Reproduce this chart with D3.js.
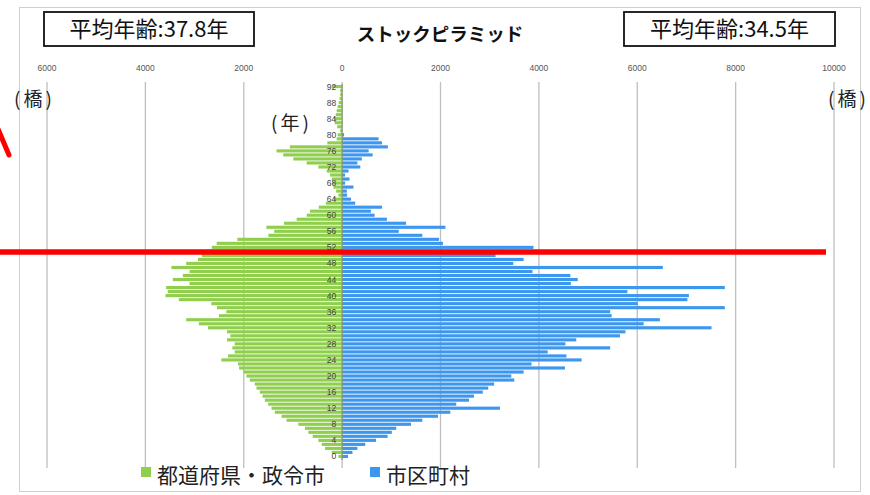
<!DOCTYPE html>
<html>
<head>
<meta charset="utf-8">
<script src="https://cdn.jsdelivr.net/npm/d3@7"></script>
<style>
  body { margin: 0; background: #fff; }
  svg { font-family: "Noto Sans CJK JP", "Noto Sans", sans-serif; }
</style>
</head>
<body>
<svg id="chart" width="870" height="495"></svg>
<script>
// 年齢 0..92
const ages = d3.range(0, 93);

// 都道府県・政令市 (橋数)
const prefValues = [
    75, 211, 347, 415, 483, 599, 687, 755, 891, 1129,
    1231, 1367, 1435, 1503, 1571, 1618, 1673, 1741, 1775, 1877,
    1945, 2000, 2095, 2116, 2456, 2320, 2184, 2232, 2184, 2340,
    2272, 2340, 2728, 2912, 3170, 2504, 2354, 2544, 2660, 3320,
    3592, 3544, 3578, 3102, 3442, 3238, 3102, 3470, 3170, 2930,
    2850, 2750, 2650, 2550, 2130, 1500, 1380, 1540, 1180, 925,
    720, 653, 475, 330, 177, 75, 122, 177, 200, 211,
    245, 313, 483, 721, 993, 1197, 1333, 1061, 300, 110,
    90, 40, 100, 150, 160, 130, 110, 90, 70, 50,
    40, 40, 210
];

// 市区町村 (橋数)
const cityValues = [
    120, 210, 310, 470, 690, 925, 1010, 1100, 1400, 1630,
    1950, 2200, 3210, 2320, 2580, 2680, 2860, 2970, 3090, 3500,
    3440, 3690, 4530, 3850, 4870, 4560, 4180, 5450, 4540, 4760,
    5650, 5760, 7510, 6130, 6460, 5480, 5450, 7780, 6010, 7020,
    7050, 5800, 7780, 4650, 4790, 4640, 3870, 6520, 3480, 3690,
    3120, 3300, 3890, 2050, 1970, 1630, 1150, 2100, 1300, 910,
    660, 585, 810, 265, 180, 100, 95, 230, 60, 150,
    60, 130, 370, 310, 400, 620, 540, 930, 810, 740,
    40, 0, 0, 0, 0, 0, 0, 0, 0, 0,
    0, 0, 0
];

const xTicks = [-6000, -4000, -2000, 0, 2000, 4000, 6000, 8000, 10000];
const ageTicks = d3.range(0, 93, 4);
const seriesNames = ["都道府県・政令市", "市区町村"];
const avgLabels = ["平均年齢:37.8年", "平均年齢:34.5年"];
const title = "ストックピラミッド";

const green = "#90cf4e";
const blue = "#3d97ef";

const svg = d3.select("#chart");

// chart frame
svg.append("rect")
    .attr("x", 19.5).attr("y", 7.5)
    .attr("width", 841).attr("height", 484)
    .attr("fill", "#fff")
    .attr("stroke", "#d0d0d0");

const x = d3.scaleLinear().domain([-6000, 10000]).range([47, 834]);
const y = d3.scaleBand()
    .domain(ages.slice().reverse())
    .range([85, 458])
    .paddingInner(0.22);

// grid lines
svg.append("g")
    .selectAll("line")
    .data(xTicks)
    .join("line")
    .attr("x1", d => x(d)).attr("x2", d => x(d))
    .attr("y1", 82).attr("y2", 468)
    .attr("stroke", "#bfbfbf")
    .attr("stroke-width", 1.3);

// tick labels on top
svg.append("g")
    .selectAll("text")
    .data(xTicks)
    .join("text")
    .attr("x", d => x(d))
    .attr("y", 71)
    .attr("text-anchor", "middle")
    .attr("font-family", "Liberation Sans Narrow, Arial Narrow, sans-serif")
    .attr("font-size", 8.5)
    .attr("fill", "#555")
    .text(d => Math.abs(d));

// bars
svg.append("g")
    .selectAll("rect")
    .data(ages)
    .join("rect")
    .attr("x", d => x(-prefValues[d]))
    .attr("y", d => y(d))
    .attr("width", d => x(0) - x(-prefValues[d]))
    .attr("height", y.bandwidth())
    .attr("fill", green);

svg.append("g")
    .selectAll("rect")
    .data(ages)
    .join("rect")
    .attr("x", x(0))
    .attr("y", d => y(d))
    .attr("width", d => x(cityValues[d]) - x(0))
    .attr("height", y.bandwidth())
    .attr("fill", blue);

// center axis
svg.append("line")
    .attr("x1", x(0)).attr("x2", x(0))
    .attr("y1", 84).attr("y2", 460)
    .attr("stroke", "#8a9a6a")
    .attr("stroke-width", 1.2);

// age labels
svg.append("g")
    .selectAll("text")
    .data(ageTicks)
    .join("text")
    .attr("x", x(0) - 6)
    .attr("y", d => y(d) + y.bandwidth() / 2 + 3)
    .attr("text-anchor", "end")
    .attr("font-family", "Liberation Sans Narrow, Arial Narrow, sans-serif")
    .attr("font-size", 8.5)
    .attr("fill", "#444")
    .text(d => d);

// title
svg.append("text")
    .attr("x", 440).attr("y", 41)
    .attr("text-anchor", "middle")
    .attr("font-size", 18.5)
    .attr("font-weight", "bold")
    .attr("fill", "#111")
    .text(title);

// average age boxes
const boxes = [{ x: 44, w: 210 }, { x: 624, w: 211 }];
boxes.forEach((b, i) => {
    svg.append("rect")
        .attr("x", b.x).attr("y", 12)
        .attr("width", b.w).attr("height", 34)
        .attr("fill", "#fff")
        .attr("stroke", "#111")
        .attr("stroke-width", 1.8);
    svg.append("text")
        .attr("x", b.x + b.w / 2).attr("y", 37)
        .attr("text-anchor", "middle")
        .attr("font-size", 22)
        .attr("fill", "#111")
        .text(avgLabels[i]);
});

// unit labels
[[14, 106, "(橋)"], [828, 106, "(橋)"], [271, 130, "(年)"]].forEach(u => {
    svg.append("text").attr("x", u[0]).attr("y", u[1])
        .attr("font-size", 19).attr("letter-spacing", 3)
        .attr("fill", "#222").text(u[2]);
});

// legend
const legend = svg.append("g");
const legendItems = [
    { x: 141, color: green, name: seriesNames[0] },
    { x: 370, color: blue, name: seriesNames[1] }
];
legendItems.forEach(it => {
    legend.append("rect")
        .attr("x", it.x).attr("y", 467)
        .attr("width", 10).attr("height", 10)
        .attr("fill", it.color);
    legend.append("text")
        .attr("x", it.x + 16).attr("y", 483)
        .attr("font-size", 21)
        .attr("fill", "#222")
        .text(it.name);
});

// red annotation marks
svg.append("line")
    .attr("x1", 0).attr("y1", 252)
    .attr("x2", 826).attr("y2", 252)
    .attr("stroke", "#ff0000")
    .attr("stroke-width", 5.5);
svg.append("line")
    .attr("x1", -2).attr("y1", 129)
    .attr("x2", 9).attr("y2", 155)
    .attr("stroke", "#ff0000")
    .attr("stroke-width", 5)
    .attr("stroke-linecap", "round");
</script>
</body>
</html>
